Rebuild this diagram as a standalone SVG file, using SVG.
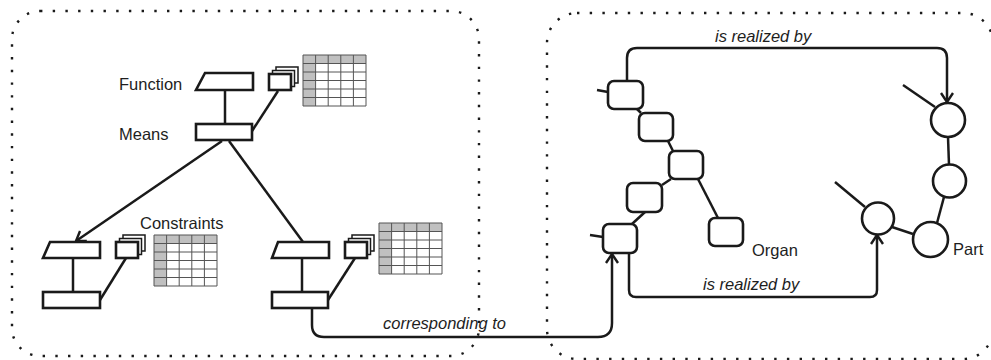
<svg xmlns="http://www.w3.org/2000/svg" xmlns:xlink="http://www.w3.org/1999/xlink" width="991" height="360" viewBox="0 0 991 360">
<style>
.frame{fill:none;stroke:#1a1a1a;stroke-width:2.4;stroke-dasharray:2.4 10.3}
.sh{fill:#fff;stroke:#1a1a1a;stroke-width:2.6;stroke-linejoin:miter}
.ln{fill:none;stroke:#1a1a1a;stroke-width:2.5}
.cn{fill:none;stroke:#1a1a1a;stroke-width:2.5;stroke-linejoin:round}
.bk{fill:#fff;stroke:#1a1a1a;stroke-width:1.5}
.org{fill:#fff;stroke:#1a1a1a;stroke-width:2.6}
.lbl{font-family:"Liberation Sans",Arial,sans-serif;font-size:16.5px;fill:#1e1e1e}
.it{font-style:italic}
.grid{stroke:#555;stroke-width:1;fill:none}
</style>
<defs>
<marker id="arr" markerUnits="userSpaceOnUse" markerWidth="20" markerHeight="20" refX="0" refY="0" viewBox="-12 -10 14 20" orient="auto" overflow="visible">
<path d="M-9,-6 L0,0 L-9,6" fill="none" stroke="#1a1a1a" stroke-width="2.4"/>
</marker>
<g id="tbl">
<rect x="0" y="0" width="63" height="51" fill="#fff"/>
<rect x="0" y="0" width="63" height="8.5" fill="#c0c0c0"/>
<rect x="0" y="0" width="12.6" height="51" fill="#c0c0c0"/>
<path class="grid" d="M0,0H63V51H0Z M0,8.5H63 M0,17H63 M0,25.5H63 M0,34H63 M0,42.5H63 M12.6,0V51 M25.2,0V51 M37.8,0V51 M50.4,0V51"/>
</g>
<g id="stk">
<rect class="bk" x="7" y="-7" width="22" height="16"/>
<rect class="bk" x="3.5" y="-3.5" width="22" height="16"/>
<rect class="sh" x="0" y="0" width="22" height="16"/>
</g>
</defs>
<rect width="991" height="360" fill="#fff"/>
<g id="frames">
<rect class="frame" x="12" y="11" width="467" height="345" rx="28"/>
<rect class="frame" x="547" y="13" width="446" height="346" rx="30"/>
</g>
<g id="connectors">
<path class="ln" d="M225,90V124"/>
<path class="ln" d="M252,131L278,91"/>
<path class="ln" d="M222,141L76,241" marker-end="url(#arr)"/>
<path class="ln" d="M229,141L303,242"/>
<path class="ln" d="M73,258V292"/>
<path class="ln" d="M100,300L126,258"/>
<path class="ln" d="M302,258V292"/>
<path class="ln" d="M328,300L355,258"/>
<path class="cn" d="M312,308V325Q312,337 324,337H598Q612,337 612,323V254" marker-end="url(#arr)"/>
<path class="cn" d="M627,81V58Q627,48 637,48H937Q947,48 947,58V102" marker-end="url(#arr)"/>
<path class="cn" d="M629,253V290Q629,297 636,297H870Q877,297 877,290V235" marker-end="url(#arr)"/>
<path class="ln" d="M597,90L608,92"/>
<path class="ln" d="M637,109L641,113"/>
<path class="ln" d="M668,141L673,151"/>
<path class="ln" d="M671,179L662,185"/>
<path class="ln" d="M645,212L632,224"/>
<path class="ln" d="M590,235L603,237"/>
<path class="ln" d="M698,179L718,218"/>
<path class="ln" d="M903,85L935,107"/>
<path class="ln" d="M948,137L949,165"/>
<path class="ln" d="M944,197L937,223"/>
<path class="ln" d="M892,227L913,234"/>
<path class="ln" d="M835,182L865,207"/>
</g>
<g id="function">
<path class="sh" d="M205,73H253V90H196Z"/>
<text class="lbl" x="119" y="90">Function</text>
</g>
<g id="means">
<rect class="sh" x="196" y="124" width="56" height="16"/>
<text class="lbl" x="119" y="140">Means</text>
</g>
<g id="means-stack"><use xlink:href="#stk" x="269" y="74"/></g>
<g id="means-table"><use xlink:href="#tbl" x="303" y="55"/></g>
<g id="left-function"><path class="sh" d="M50,242H100V258H43Z"/></g>
<g id="left-means"><rect class="sh" x="43" y="292" width="57" height="16"/></g>
<g id="left-stack"><use xlink:href="#stk" x="116" y="242"/></g>
<g id="constraints">
<use xlink:href="#tbl" x="154" y="235"/>
<text class="lbl" x="140" y="229">Constraints</text>
</g>
<g id="right-function"><path class="sh" d="M278,242H329V258H272Z"/></g>
<g id="right-means"><rect class="sh" x="272" y="292" width="56" height="16"/></g>
<g id="right-stack"><use xlink:href="#stk" x="345" y="242"/></g>
<g id="right-table"><use xlink:href="#tbl" x="379" y="223"/></g>
<g id="organ1"><rect class="org" x="608" y="81" width="35" height="28" rx="6"/></g>
<g id="organ2"><rect class="org" x="639" y="113" width="34" height="28" rx="6"/></g>
<g id="organ3"><rect class="org" x="669" y="151" width="34" height="28" rx="6"/></g>
<g id="organ4"><rect class="org" x="627" y="183" width="35" height="29" rx="6"/></g>
<g id="organ5"><rect class="org" x="603" y="224" width="34" height="29" rx="6"/></g>
<g id="organ6">
<rect class="org" x="709" y="218" width="34" height="28" rx="6"/>
<text class="lbl" x="752" y="256">Organ</text>
</g>
<g id="part1"><circle class="org" cx="948" cy="120" r="17"/></g>
<g id="part2"><circle class="org" cx="949.5" cy="181" r="16.5"/></g>
<g id="part3">
<circle class="org" cx="930.5" cy="239.5" r="17.5"/>
<text class="lbl" x="953" y="255">Part</text>
</g>
<g id="part4"><circle class="org" cx="878" cy="218.5" r="16"/></g>
<g id="labels">
<text class="lbl it" x="383" y="329">corresponding to</text>
<text class="lbl it" x="715" y="42">is realized by</text>
<text class="lbl it" x="703" y="290">is realized by</text>
</g>
</svg>
